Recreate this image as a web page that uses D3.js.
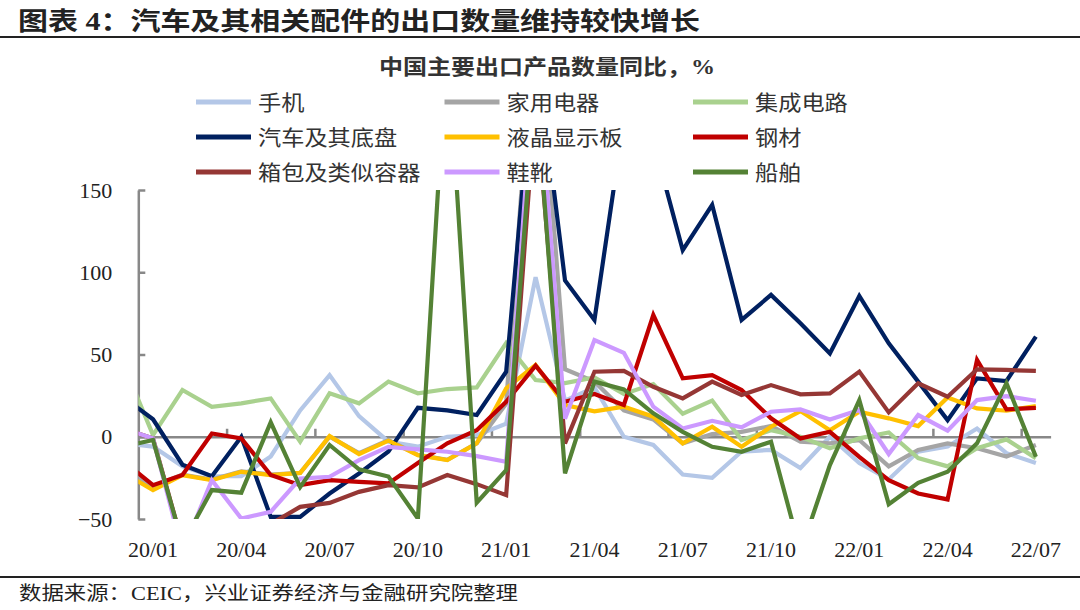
<!DOCTYPE html>
<html>
<head>
<meta charset="utf-8">
<script src="https://cdn.jsdelivr.net/npm/d3@7.9.0/dist/d3.min.js"></script>
<style>
  body { margin: 0; background: #fff; }
  svg { display: block; }
</style>
</head>
<body>
<svg id="chart" width="1080" height="610"></svg>
<script>
// months: 19/12 is only partly visible at the left edge
const months = ['19/12',
  '20/01','20/02','20/03','20/04','20/05','20/06','20/07','20/08','20/09','20/10','20/11','20/12',
  '21/01','21/02','21/03','21/04','21/05','21/06','21/07','21/08','21/09','21/10','21/11','21/12',
  '22/01','22/02','22/03','22/04','22/05','22/06','22/07'];

const seriesNames = ['手机', '家用电器', '集成电路', '汽车及其底盘', '液晶显示板', '钢材', '箱包及类似容器', '鞋靴', '船舶'];
const seriesColors = ['#b4c7e7', '#a5a5a5', '#a9d18e', '#002060', '#ffc000', '#c00000', '#953735', '#cc99ff', '#548235'];

const phone     = [-4, -6, -18, -24, -24, -12, 16, 37.5, 12.5, -3, -6, 0, 1, 8, 97, 22, 30, 0, -5, -23, -25, -9, -8, -19, 0, -16, -26, -9, -6, 5, -10, -16];
const appliance = [-20, -30, -23, -26, -21, -23, -22, 0, -10, -2, -11, -14, -4, 20, 270, 41, 33.5, 16, 10.5, -4, 1.6, 3, 6.5, -3, -4, -2, -18, -8, -4, -7, -12, -5];
const chips     = [44, 1, 28.4, 18.2, 20.3, 23.3, -3, 26.4, 20.3, 33.5, 26.4, 29, 30, 57, 34.5, 32.6, 36, 26, 32, 14, 22, -2, 4, 0, -7, -1, 2.6, -13, -18, -7, -1.6, -13];
const autos     = [24, 10.6, -17, -24, 0, -48.7, -48.7, -34.5, -22.3, -9, 17.6, 16, 13.2, 39.5, 240, 95, 71, 193, 180, 113.4, 141, 71, 86.2, 69, 50.7, 85.6, 56.8, 33.5, 10.1, 35.5, 33.9, 60.9];
const lcd       = [-22, -32.4, -23.3, -26.4, -21.3, -23.3, -22, 0.4, -10.5, -2.4, -11.2, -14.2, -4, 29.4, 43.6, 19.3, 15.5, 18.3, 12.2, -4, 6.1, -6.1, 6.1, 15.6, 4, 15.2, 11.2, 6.5, 23.9, 17.2, 15.8, 18.7];
const steel     = [-15, -29.4, -23.3, 2, -1, -23.3, -29.4, -26.4, -27.4, -28.4, -16, -4, 4, 21.3, 43.2, 21.3, 26, 19.3, 74, 35.5, 37.5, 28.4, 11.2, -1, 3, -12.2, -26.4, -34.5, -38.1, 46.7, 16.6, 17.6];
const bags      = [5, -1, -65, -70, -51, -53, -42.6, -40.2, -33.5, -29.4, -30.8, -23.3, -28.8, -35.5, 205, -4, 39.5, 40, 30.4, 23.3, 33.5, 25.4, 31.4, 25.8, 26.4, 39.6, 14.8, 32.5, 24.3, 41, 40.6, 40];
const shoes     = [5, -1, -70, -26.4, -49.7, -45.6, -25.4, -24.3, -14.2, -6.1, -7.7, -9.1, -11.8, -15.2, 238, 11, 58.8, 51, 18.3, 5, 9.7, 5.7, 15.2, 16.6, 10.5, 16.2, -10.5, 13.2, 3.7, 22.3, 24.7, 21.9];
const ships     = [-6, -2, -65, -32.4, -34, 8.8, -30.6, -5, -19.8, -24.2, -49.7, 242, -40, -20.3, 215, -22.3, 33.5, 28.8, 14.2, 3, -6.1, -9.1, -3, -70, -17.2, 22.3, -41, -28, -21.3, -4, 32.5, -12.2];

const seriesValues = [phone, appliance, chips, autos, lcd, steel, bags, shoes, ships];
const yTicks = [-50, 0, 50, 100, 150];

const serif = '"Liberation Serif", "Noto Sans CJK SC", serif';
const svg = d3.select('#chart');

// plot area
const plotLeft = 138.3, plotRight = 1050.6, plotTop = 190, plotBottom = 519;
// category bands: index 1 (20/01) .. 31 (22/07)
const x = d3.scaleLinear().domain([0.5, 31.5]).range([plotLeft, plotRight]);
const y = d3.scaleLinear().domain([-50, 150]).range([plotBottom, plotTop]);

// title + rules
svg.append('text')
  .attr('x', 18).attr('y', 30)
  .attr('font-family', serif).attr('font-size', 25).attr('font-weight', 'bold')
  .attr('fill', '#222')
  .attr('textLength', 682).attr('lengthAdjust', 'spacingAndGlyphs')
  .text('图表 4：汽车及其相关配件的出口数量维持较快增长');
svg.append('line').attr('x1', 0).attr('x2', 1080).attr('y1', 37).attr('y2', 37)
  .attr('stroke', '#222').attr('stroke-width', 2);
svg.append('line').attr('x1', 0).attr('x2', 1080).attr('y1', 577).attr('y2', 577)
  .attr('stroke', '#222').attr('stroke-width', 2);
svg.append('text')
  .attr('x', 19).attr('y', 600)
  .attr('font-family', serif).attr('font-size', 19)
  .attr('fill', '#222')
  .attr('textLength', 499).attr('lengthAdjust', 'spacingAndGlyphs')
  .text('数据来源：CEIC，兴业证券经济与金融研究院整理');

// chart title
svg.append('text')
  .attr('x', 379).attr('y', 74)
  .attr('font-family', serif).attr('font-size', 21).attr('font-weight', 'bold')
  .attr('fill', '#333')
  .attr('textLength', 336).attr('lengthAdjust', 'spacingAndGlyphs')
  .text('中国主要出口产品数量同比，%');

// legend, 3 per row
const legend = svg.append('g');
seriesNames.forEach((name, idx) => {
  const col = idx % 3, row = Math.floor(idx / 3);
  const lx = 196 + col * 248.5, ly = 102 + row * 35;
  legend.append('line')
    .attr('x1', lx).attr('x2', lx + 55).attr('y1', ly).attr('y2', ly)
    .attr('stroke', seriesColors[idx]).attr('stroke-width', 5);
  legend.append('text')
    .attr('x', lx + 62).attr('y', ly + 7.5)
    .attr('font-family', serif).attr('font-size', 21).attr('fill', '#333')
    .attr('textLength', name.length * 23.2).attr('lengthAdjust', 'spacingAndGlyphs')
    .text(name);
});

// y axis, ticks point inward
const yAxis = svg.append('g')
  .attr('transform', `translate(${plotLeft},0)`)
  .call(d3.axisLeft(y).tickValues(yTicks).tickSizeInner(-7).tickSizeOuter(0).tickPadding(26));
yAxis.select('.domain').attr('stroke', '#888').attr('stroke-width', 2.5);
yAxis.selectAll('.tick line').attr('stroke', '#888').attr('stroke-width', 2.5);
yAxis.selectAll('.tick text')
  .attr('font-family', serif).attr('font-size', 22).attr('fill', '#222');

// x axis at zero, ticks every 3 months on band edges
const boundaries = d3.range(3.5, 31, 3);
const xAxis = svg.append('g')
  .attr('transform', `translate(0,${y(0)})`)
  .call(d3.axisBottom(x).tickValues(boundaries).tickSize(-8).tickSizeOuter(0).tickFormat(''));
xAxis.select('.domain').attr('stroke', '#888').attr('stroke-width', 2.5);
xAxis.selectAll('.tick line').attr('stroke', '#888').attr('stroke-width', 2.5);

// month labels below the plot
svg.append('g').selectAll('text')
  .data(months.map((m, i) => ({ m, i })).filter(d => d.i >= 1 && (d.i - 1) % 3 === 0))
  .join('text')
  .attr('x', d => x(d.i)).attr('y', 557)
  .attr('text-anchor', 'middle')
  .attr('font-family', serif).attr('font-size', 22).attr('fill', '#222')
  .text(d => d.m);

// clip lines to plot area
svg.append('clipPath').attr('id', 'plot-clip')
  .append('rect').attr('x', plotLeft).attr('y', plotTop)
  .attr('width', plotRight - plotLeft).attr('height', plotBottom - plotTop);

const line = d3.line().x((d, i) => x(i)).y(d => y(d));
const lines = svg.append('g').attr('clip-path', 'url(#plot-clip)');
seriesValues.forEach((vals, idx) => {
  lines.append('path')
    .attr('d', line(vals))
    .attr('fill', 'none')
    .attr('stroke', seriesColors[idx])
    .attr('stroke-width', 4.2)
    .attr('stroke-linejoin', 'miter');
});
</script>
</body>
</html>
